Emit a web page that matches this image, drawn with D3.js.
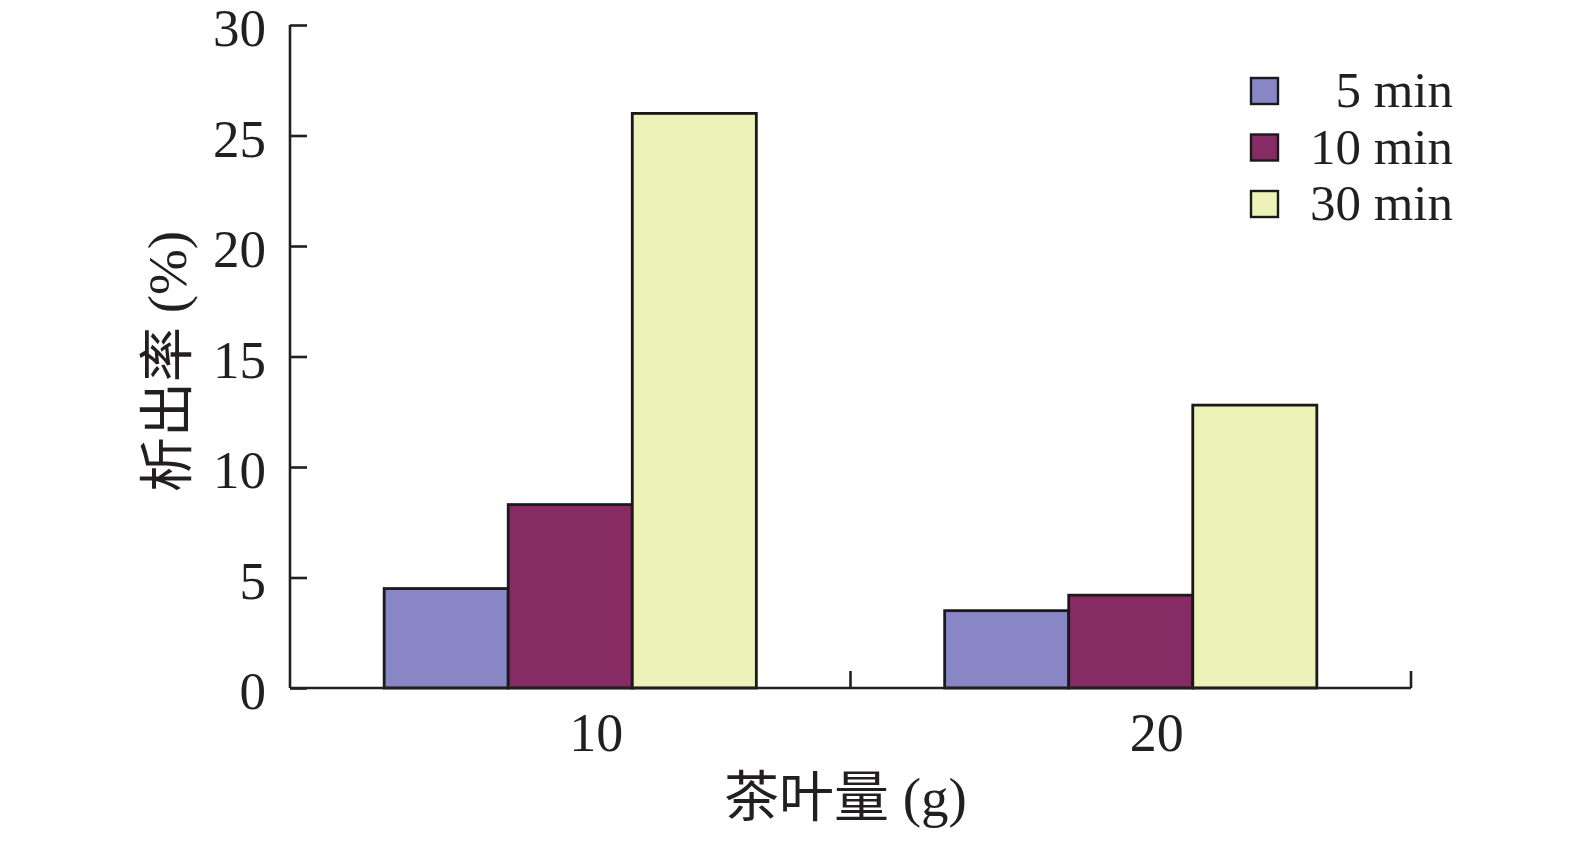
<!DOCTYPE html>
<meta charset="utf-8">
<style>
    body { margin: 0; background: #fff; }
    text { font-family: "Liberation Serif", "Times New Roman", "Noto Sans CJK SC", serif; fill: #231f20; }
</style>
<svg width="1575" height="841"></svg>
<script src="https://d3js.org/d3.v7.min.js"></script>
<script>

    var groups = ["10", "20"];
    var series = ["5 min", "10 min", "30 min"];
    var values5 = [4.5, 3.5];
    var values10 = [8.3, 4.2];
    var values30 = [26.0, 12.8];
    var yTicks = [0, 5, 10, 15, 20, 25, 30];
    var colors = ["#8886c4", "#862b63", "#edf3b8"];

    var svg = d3.select("svg"),
        margin = {top: 25, right: 164, bottom: 153, left: 290},
        width = 1575 - margin.left - margin.right,
        height = 841 - margin.top - margin.bottom,
        g = svg.append("g").attr("transform", "translate(" + margin.left + "," + margin.top + ")");

    var data = groups.map(function (d, i) {
        return {group: d, vals: [values5[i], values10[i], values30[i]]};
    });

    var x0 = d3.scaleBand().domain(groups).range([0, width]);
    var x1 = d3.scaleBand().domain(series)
        .range([0, x0.bandwidth() * 0.664])
        .paddingInner(0);
    var y = d3.scaleLinear().domain([0, 30]).range([height, 0]);

    // bars
    var grp = g.selectAll(".grp")
        .data(data)
        .enter().append("g")
        .attr("class", "grp")
        .attr("transform", function (d) {
            return "translate(" + (x0(d.group) + x0.bandwidth() * 0.168) + ",0)";
        });

    grp.selectAll("rect")
        .data(function (d) { return d.vals.map(function (v, i) { return {s: series[i], v: v, c: colors[i]}; }); })
        .enter().append("rect")
        .attr("x", function (d) { return x1(d.s); })
        .attr("y", function (d) { return y(d.v); })
        .attr("width", x1.bandwidth())
        .attr("height", function (d) { return height - y(d.v); })
        .attr("fill", function (d) { return d.c; })
        .attr("stroke", "#1a1a1a")
        .attr("stroke-width", 2.8);

    // y axis, ticks pointing inside
    var yAxis = g.append("g")
        .call(d3.axisRight(y).tickValues(yTicks).tickSize(17).tickFormat(""));
    yAxis.select(".domain").attr("d", "M0," + y(30) + "V" + height);
    yAxis.selectAll("line, path").attr("stroke", "#231f20").attr("stroke-width", 2.6);

    g.selectAll(".ylab")
        .data(yTicks)
        .enter().append("text")
        .attr("class", "ylab")
        .attr("x", -24)
        .attr("y", function (d) { return y(d); })
        .attr("dy", "0.4em")
        .attr("text-anchor", "end")
        .style("font-size", "53px")
        .text(function (d) { return d; });

    // x axis with ticks at band edges pointing up
    var xAxis = g.append("g").attr("transform", "translate(0," + height + ")");
    xAxis.append("line")
        .attr("x1", 0).attr("x2", width)
        .attr("stroke", "#231f20").attr("stroke-width", 2.6);
    xAxis.selectAll(".xt")
        .data(groups)
        .enter().append("line")
        .attr("x1", function (d) { return x0(d) + x0.bandwidth(); })
        .attr("x2", function (d) { return x0(d) + x0.bandwidth(); })
        .attr("y1", 0).attr("y2", -17)
        .attr("stroke", "#231f20").attr("stroke-width", 2.6);
    xAxis.selectAll(".xlab")
        .data(groups)
        .enter().append("text")
        .attr("x", function (d) { return x0(d) + x0.bandwidth() / 2 + 26; })
        .attr("y", 63)
        .attr("text-anchor", "middle")
        .style("font-size", "54px")
        .text(function (d) { return d; });

    // axis titles
    g.append("text")
        .attr("x", width / 2 - 5)
        .attr("y", height + 128)
        .attr("text-anchor", "middle")
        .style("font-size", "55px")
        .text("茶叶量 (g)");

    g.append("text")
        .attr("transform", "translate(-104," + (height / 2 + 5) + ") rotate(-90)")
        .attr("text-anchor", "middle")
        .style("font-size", "55px")
        .text("析出率 (%)");

    // legend
    var legend = svg.append("g");
    var ly = d3.scalePoint().domain(series).range([90, 203]);
    legend.selectAll("rect")
        .data(series)
        .enter().append("rect")
        .attr("x", 1251)
        .attr("y", function (d) { return ly(d) - 12; })
        .attr("width", 27)
        .attr("height", 26)
        .attr("fill", function (d, i) { return colors[i]; })
        .attr("stroke", "#1a1a1a")
        .attr("stroke-width", 2.4);
    legend.selectAll("text")
        .data(series)
        .enter().append("text")
        .attr("x", 1453)
        .attr("y", function (d) { return ly(d) + 17; })
        .attr("text-anchor", "end")
        .style("font-size", "51px")
        .text(function (d) { return d; });

</script>
